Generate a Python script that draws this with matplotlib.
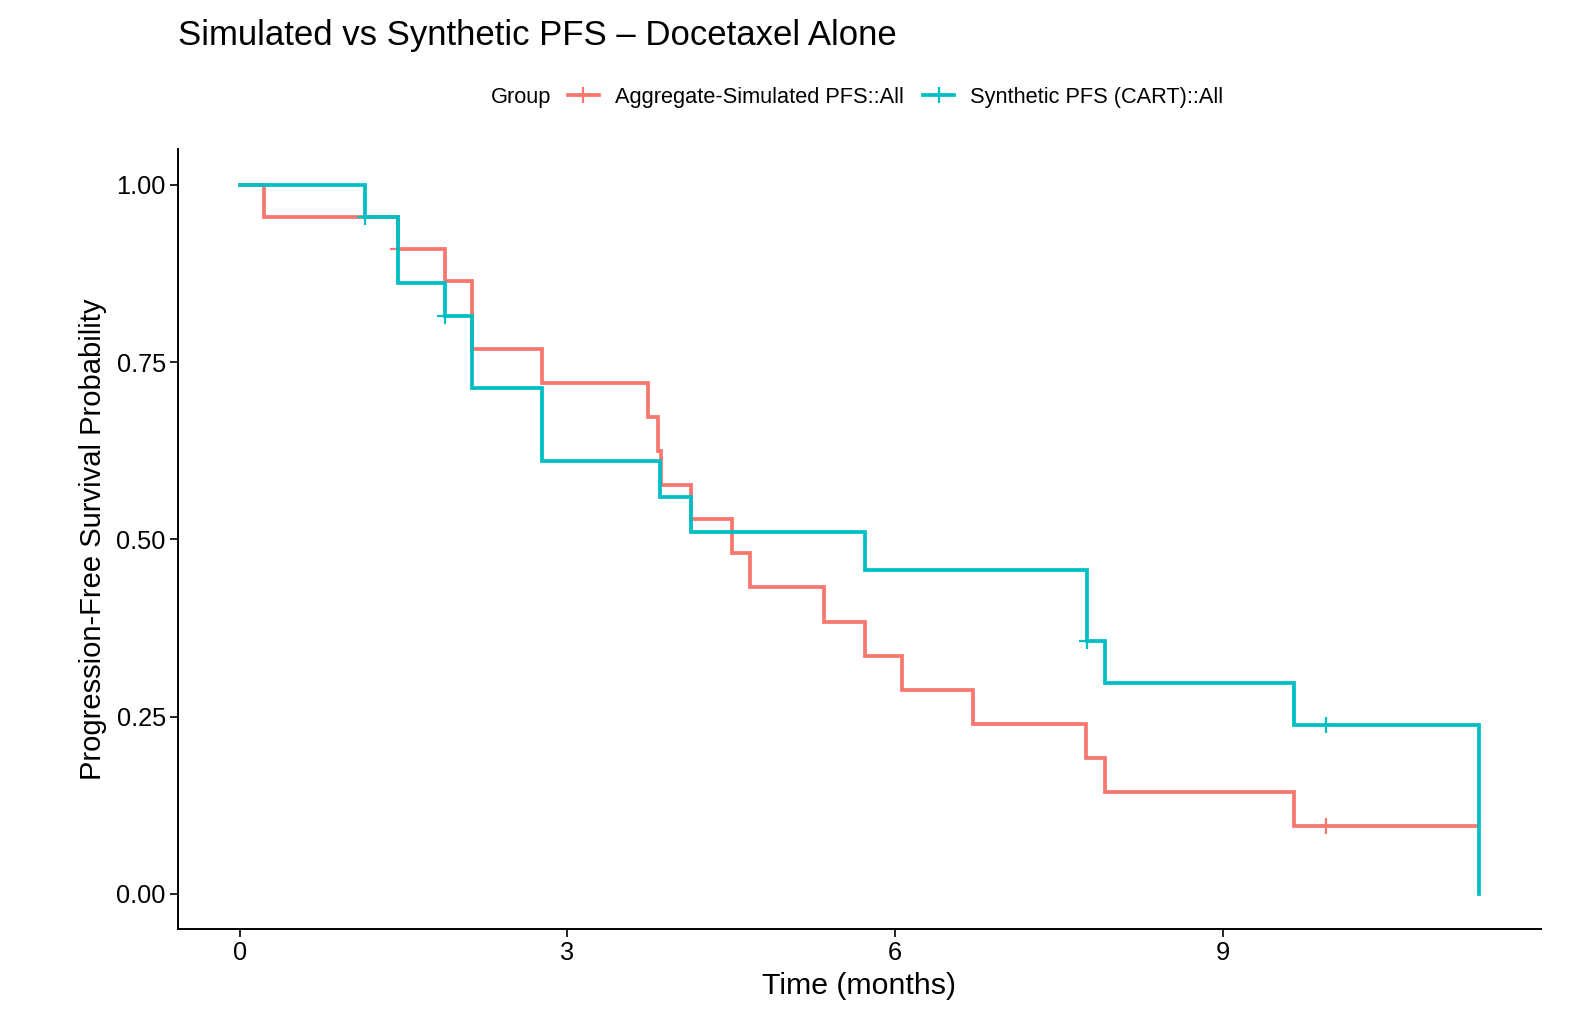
import numpy as np
import matplotlib
matplotlib.use('Agg')
import matplotlib.pyplot as plt
from matplotlib.lines import Line2D

plt.rcParams['font.family'] = ['Liberation Sans', 'DejaVu Sans']

# Aggregate-Simulated PFS: step times (months) and survival after each step
red_time = [0.0, 0.222, 1.45, 1.885, 2.126, 2.765, 3.743, 3.835, 3.86, 4.133,
            4.506, 4.674, 5.352, 5.727, 6.064, 6.711, 7.749, 7.92, 9.651]
red_surv = [1.0, 0.955, 0.909, 0.864, 0.768, 0.720, 0.672, 0.624, 0.576, 0.528,
            0.480, 0.432, 0.384, 0.336, 0.288, 0.240, 0.192, 0.144, 0.096]
red_end = 11.34
red_cens_time = [1.45, 9.95]
red_cens_surv = [0.909, 0.096]

# Synthetic PFS (CART)
teal_time = [0.0, 1.146, 1.45, 1.885, 2.126, 2.765, 3.845, 4.133, 5.727,
             7.755, 7.92, 9.651, 11.345]
teal_surv = [1.0, 0.955, 0.862, 0.815, 0.713, 0.611, 0.560, 0.510, 0.457,
             0.357, 0.297, 0.238, 0.0]
teal_cens_time = [1.146, 1.885, 7.755, 9.95]
teal_cens_surv = [0.955, 0.815, 0.357, 0.238]

labels = ['Aggregate-Simulated PFS::All', 'Synthetic PFS (CART)::All']
colors = ['#F8766D', '#00BFC4']

fig = plt.figure(figsize=(15.82, 10.22), dpi=100)
ax = fig.add_axes([0.1123, 0.0908, 0.8615, 0.7631])

# red curve
ax.step(np.append(red_time, red_end), np.append(red_surv, red_surv[-1]),
        where='post', color=colors[0], lw=2.7, solid_joinstyle='miter')
ax.plot(red_cens_time, red_cens_surv, ls='none', marker='+', ms=11,
        mew=1.6, color=colors[0])

# teal curve
ax.step(teal_time, teal_surv, where='post', color=colors[1], lw=2.7,
        solid_joinstyle='miter')
ax.plot(teal_cens_time, teal_cens_surv, ls='none', marker='+', ms=11,
        mew=1.6, color=colors[1])

ax.set_xlim(-0.567, 11.912)
ax.set_ylim(-0.05, 1.05)
ax.set_xticks([0, 3, 6, 9])
ax.set_yticks([0, 0.25, 0.5, 0.75, 1.0])
ax.set_yticklabels(['0.00', '0.25', '0.50', '0.75', '1.00'])
ax.spines['top'].set_visible(False)
ax.spines['right'].set_visible(False)
for s in ['left', 'bottom']:
    ax.spines[s].set_linewidth(1.4)
ax.tick_params(length=5.5, width=1.2, labelsize=18.3, pad=3, colors='black')

ax.set_xlabel('Time (months)', fontsize=21.8, labelpad=5)
ax.set_ylabel('Progression-Free Survival Probability', fontsize=21, labelpad=7)

fig.text(177.6 / 1582, 1 - 36 / 1022, 'Simulated vs Synthetic PFS \u2013 Docetaxel Alone',
         fontsize=25, va='center', ha='left')

# legend at top with "Group" title to the left
fig.text(491 / 1582, 1 - 97 / 1022, 'Group', fontsize=15.7, va='center', ha='left')
handles = [Line2D([], [], color=c, lw=2.7, marker='+', ms=11, mew=1.6) for c in colors]
fig.legend(handles, labels, loc='center left', bbox_to_anchor=(568 / 1582, 1 - 97 / 1022),
           ncol=2, frameon=False, fontsize=15.7, handlelength=1.4, handletextpad=0.75,
           columnspacing=0.9, borderpad=0, borderaxespad=0)

fig.savefig('out.png', dpi=100)
